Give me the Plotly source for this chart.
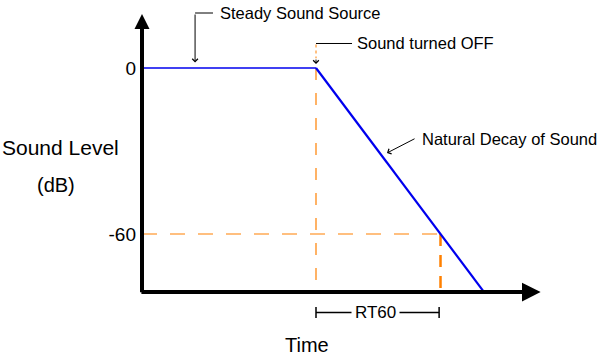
import plotly.graph_objects as go

# ---- data (time in arbitrary units, level in dB) ----
steady_time = [0.0, 1.0]
steady_db = [0, 0]
decay_time = [1.0, 1.966]
decay_db = [0, -81]
t_off = 1.0
t_rt60 = 1.7156
level_rt60 = -60
floor_db = -81
ytick_vals = [0, -60]
ytick_text = ["0", "-60"]

FONT = "Liberation Sans, Arial, sans-serif"
ORANGE = "#ff8000"
BLUE = "#0000ee"

fig = go.Figure()

# orange reference lines
fig.add_trace(go.Scatter(x=[0, t_rt60], y=[level_rt60, level_rt60], mode="lines",
                         line=dict(color=ORANGE, width=1.2, dash="15px,13px"), hoverinfo="skip"))
fig.add_trace(go.Scatter(x=[t_off, t_off], y=[0, floor_db], mode="lines",
                         line=dict(color=ORANGE, width=1.2, dash="12px,13px"), hoverinfo="skip"))
fig.add_trace(go.Scatter(x=[t_rt60, t_rt60], y=[level_rt60, floor_db], mode="lines",
                         line=dict(color=ORANGE, width=2.5, dash="12px,9px"), hoverinfo="skip"))
# sound level
fig.add_trace(go.Scatter(x=steady_time, y=steady_db, mode="lines",
                         line=dict(color=BLUE, width=1.3), hoverinfo="skip"))
fig.add_trace(go.Scatter(x=decay_time, y=decay_db, mode="lines",
                         line=dict(color=BLUE, width=2.2), hoverinfo="skip"))

ann = []
def arrow(x0, y0, x1, y1, width, head, size, color="black"):
    ann.append(dict(x=x1, y=y1, ax=x0, ay=y0, xref="x", yref="y", axref="x", ayref="y",
                    text="", showarrow=True, arrowhead=head, arrowsize=size,
                    arrowwidth=width, arrowcolor=color, standoff=0, startstandoff=0))

def label(x, y, text, size, xanchor="left", bg=None):
    d = dict(x=x, y=y, xref="x", yref="y", text=text, showarrow=False,
             xanchor=xanchor, yanchor="middle", font=dict(family=FONT, size=size, color="black"))
    if bg:
        d.update(bgcolor=bg, borderpad=3)
    ann.append(d)

# axes with arrow heads
arrow(0, -81.6, 0, 19.5, 4, 2, 0.75)
arrow(-0.012, floor_db, 2.291, floor_db, 4, 2, 0.93)

# Steady Sound Source leader
fig.add_shape(type="line", x0=0.305, x1=0.408, y0=19.88, y1=19.88, xref="x", yref="y",
              line=dict(color="black", width=1))
arrow(0.305, 19.88, 0.305, 2.0, 1, 4, 1.1)
label(0.437, 19.88, "Steady Sound Source", 16.5)

# Sound turned OFF leader
fig.add_shape(type="line", x0=1.0, x1=1.207, y0=8.86, y1=8.86, xref="x", yref="y",
              line=dict(color="black", width=1))
fig.add_shape(type="line", x0=1.0, x1=1.0, y0=8.5, y1=3.5, xref="x", yref="y",
              line=dict(color=ORANGE, width=1, dash="dot"))
arrow(1.0, 3.6, 1.0, 1.45, 1, 4, 1.1)
label(1.224, 8.86, "Sound turned OFF", 16.5)

# Natural decay leader
arrow(1.575, -25.3, 1.408, -30.72, 1, 4, 1.1)
label(1.598, -25.66, "Natural Decay of Sound", 16.5)

# RT60 bracket
fig.add_shape(type="line", x0=t_off, x1=t_rt60 - 0.008, y0=-88.4, y1=-88.4, xref="x", yref="y",
              line=dict(color="black", width=1.5))
fig.add_shape(type="line", x0=t_off, x1=t_off, y0=-86.4, y1=-90.4, xref="x", yref="y",
              line=dict(color="black", width=1.5))
fig.add_shape(type="line", x0=t_rt60 - 0.008, x1=t_rt60 - 0.008, y0=-86.4, y1=-90.4, xref="x", yref="y",
              line=dict(color="black", width=1.5))
label(1.343, -88.4, "RT60", 17, xanchor="center", bg="white")

# axis titles
label(0.951, -100.1, "Time", 20, xanchor="center")
label(-0.471, -28.9, "Sound Level", 21, xanchor="center")
label(-0.497, -42.3, "(dB)", 20, xanchor="center")

fig.update_layout(
    width=600, height=356, margin=dict(l=0, r=0, t=0, b=0),
    paper_bgcolor="white", plot_bgcolor="white", showlegend=False,
    annotations=ann,
    xaxis=dict(range=[-0.8161, 2.6322], visible=False, domain=[0, 1]),
    yaxis=dict(range=[-104.10, 24.58], anchor="free", position=142 / 600,
               showgrid=False, zeroline=False, showline=False, ticks="",
               tickvals=ytick_vals, ticktext=ytick_text, ticklabelstandoff=6,
               tickfont=dict(family=FONT, size=19, color="black")),
)

fig.write_html("out.html", config={"displayModeBar": False},
               post_script="document.body.style.margin='0';document.body.style.overflow='hidden';")
